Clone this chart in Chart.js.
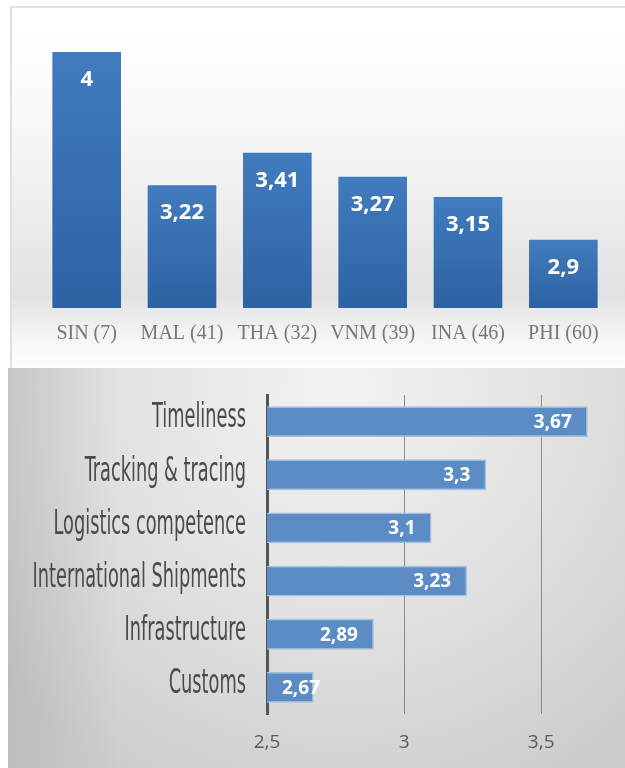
<!DOCTYPE html>
<html>
<head>
<meta charset="utf-8">
<script src="https://cdn.jsdelivr.net/npm/chart.js@4/dist/chart.umd.min.js"></script>
<style>
  html, body { margin: 0; padding: 0; background: #fff; }
  body { width: 625px; height: 768px; position: relative; overflow: hidden; }
  #topBox {
    position: absolute; left: 10px; top: 6px; width: 615px; height: 360px;
    border-left: 2px solid #e0e0e0; border-top: 2px solid #e4e4e4; border-bottom: 2px solid #cdcdcd;
  }
  #topChart { position: absolute; left: 0; top: 0; }
  #bottomChart { position: absolute; left: 8px; top: 368px; }
</style>
</head>
<body>
<div id="topBox"><canvas id="topChart" width="613" height="360"></canvas></div>
<canvas id="bottomChart" width="617" height="400"></canvas>

<script>
// --- data: LPI score per country (top) ---
const countries = ['SIN (7)', 'MAL (41)', 'THA (32)', 'VNM (39)', 'INA (46)', 'PHI (60)'];
const countryScores = [4, 3.22, 3.41, 3.27, 3.15, 2.9];

// --- data: LPI components (bottom) ---
const components = ['Timeliness', 'Tracking & tracing', 'Logistics competence', 'International Shipments', 'Infrastructure', 'Customs'];
const componentScores = [3.67, 3.3, 3.1, 3.23, 2.89, 2.67];
const componentTicks = [2.5, 3, 3.5];

const fmt = v => String(v).replace('.', ',');
const LABEL_FONT = '"Open Sans", "Liberation Sans", sans-serif';

// --- background plugins ---
const topBackground = {
    id: 'topBackground',
    beforeDraw(chart) {
        const { ctx, width, height } = chart;
        const g = ctx.createLinearGradient(0, 0, 0, height);
        g.addColorStop(0, '#ffffff');
        g.addColorStop(0.2, '#fcfcfc');
        g.addColorStop(0.55, '#eeeeee');
        g.addColorStop(0.8, '#e2e2e2');
        g.addColorStop(0.85, '#ebebeb');
        g.addColorStop(0.93, '#f7f7f7');
        g.addColorStop(1, '#fdfdfd');
        ctx.save();
        ctx.fillStyle = g;
        ctx.fillRect(0, 0, width, height);
        ctx.restore();
    }
};

const bottomBackground = {
    id: 'bottomBackground',
    beforeDraw(chart) {
        const { ctx, width, height } = chart;
        ctx.save();
        const g = ctx.createRadialGradient(330, 20, 10, 330, 20, 440);
        g.addColorStop(0, '#f2f2f2');
        g.addColorStop(0.45, '#e4e4e4');
        g.addColorStop(1, '#cdcdcd');
        ctx.fillStyle = g;
        ctx.fillRect(0, 0, width, height);
        const l = ctx.createLinearGradient(0, 0, 110, 0);
        l.addColorStop(0, 'rgba(0,0,0,0.08)');
        l.addColorStop(1, 'rgba(0,0,0,0)');
        ctx.fillStyle = l;
        ctx.fillRect(0, 0, 110, height);
        ctx.restore();
    }
};

// --- value labels ---
const topValueLabels = {
    id: 'topValueLabels',
    afterDatasetsDraw(chart) {
        const { ctx } = chart;
        const meta = chart.getDatasetMeta(0);
        ctx.save();
        ctx.fillStyle = '#ffffff';
        ctx.font = 'bold 22px ' + LABEL_FONT;
        ctx.textAlign = 'center';
        ctx.textBaseline = 'middle';
        meta.data.forEach((bar, i) => {
            ctx.fillText(fmt(countryScores[i]), bar.x, bar.y + 28);
        });
        ctx.restore();
    }
};

const bottomValueLabels = {
    id: 'bottomValueLabels',
    afterDatasetsDraw(chart) {
        const { ctx } = chart;
        const meta = chart.getDatasetMeta(0);
        const start = chart.scales.x.getPixelForValue(componentTicks[0]);
        ctx.save();
        ctx.fillStyle = '#ffffff';
        ctx.font = 'bold 19px ' + LABEL_FONT;
        ctx.textAlign = 'right';
        ctx.textBaseline = 'middle';
        meta.data.forEach((bar, i) => {
            const txt = fmt(componentScores[i]);
            const w = ctx.measureText(txt).width;
            const x = Math.max(bar.x - 16, start + 15 + w);
            ctx.fillText(txt, x, bar.y + 1);
        });
        ctx.restore();
    }
};

// condensed category labels on the left of the bottom chart
const condensedLabels = {
    id: 'condensedLabels',
    afterDraw(chart) {
        const { ctx } = chart;
        const y = chart.scales.y;
        ctx.save();
        ctx.font = '34px "Liberation Sans Narrow", "DejaVu Sans Condensed", "Liberation Sans", sans-serif';
        const squeeze = 94 / ctx.measureText('Timeliness').width;
        ctx.fillStyle = '#4a4a4a';
        ctx.textAlign = 'right';
        ctx.textBaseline = 'middle';
        components.forEach((label, i) => {
            const py = y.getPixelForTick(i) - 3;
            ctx.save();
            ctx.translate(238, py);
            ctx.scale(squeeze, 1);
            ctx.fillText(label, 0, 0);
            ctx.restore();
        });
        ctx.restore();
    }
};

// --- top chart ---
new Chart(document.getElementById('topChart'), {
    type: 'bar',
    data: {
        labels: countries,
        datasets: [{
            data: countryScores,
            backgroundColor(context) {
                const chart = context.chart;
                const area = chart.chartArea;
                if (!area || context.dataIndex === undefined) return '#3670b2';
                const top = chart.scales.y.getPixelForValue(countryScores[context.dataIndex]);
                const g = chart.ctx.createLinearGradient(0, top, 0, area.bottom);
                g.addColorStop(0, '#417cbe');
                g.addColorStop(1, '#2d62a3');
                return g;
            },
            borderWidth: 0,
            categoryPercentage: 1,
            barPercentage: 0.72
        }]
    },
    options: {
        responsive: false,
        animation: false,
        layout: { padding: { top: 10, left: 27, right: 14, bottom: 0 } },
        plugins: { legend: { display: false }, tooltip: { enabled: false } },
        scales: {
            x: {
                grid: { display: false, drawTicks: false },
                border: { display: false },
                ticks: {
                    color: '#777777',
                    padding: 14,
                    font: { family: '"Liberation Serif", "DejaVu Serif", serif', size: 20 }
                },
                afterFit(scale) { scale.height = 60; }
            },
            y: {
                display: false,
                min: 2.5,
                max: 4.2
            }
        }
    },
    plugins: [topBackground, topValueLabels]
});

// --- bottom chart ---
new Chart(document.getElementById('bottomChart'), {
    type: 'bar',
    data: {
        labels: components,
        datasets: [{
            data: componentScores,
            backgroundColor: '#5b8cc5',
            borderColor: '#a3c0e3',
            borderWidth: 1.5,
            borderSkipped: false,
            categoryPercentage: 1,
            barPercentage: 0.58
        }]
    },
    options: {
        indexAxis: 'y',
        responsive: false,
        animation: false,
        layout: { padding: { top: 27, left: 0, right: 29, bottom: 0 } },
        plugins: { legend: { display: false }, tooltip: { enabled: false } },
        scales: {
            x: {
                min: 2.5,
                max: 3.7,
                afterBuildTicks(scale) { scale.ticks = componentTicks.map(v => ({ value: v })); },
                grid: {
                    drawTicks: false,
                    lineWidth: 1,
                    color: ctx => (ctx.tick && ctx.tick.value === 2.5 ? 'rgba(0,0,0,0)' : '#8a8a8a')
                },
                border: { display: false },
                ticks: {
                    color: '#595959',
                    padding: 17,
                    font: { family: LABEL_FONT, size: 19 },
                    callback: v => fmt(v)
                },
                afterFit(scale) { scale.height = 54; }
            },
            y: {
                grid: { display: false, drawTicks: false },
                border: { display: true, color: '#555555', width: 3 },
                ticks: { display: false },
                afterFit(scale) { scale.width = 259; }
            }
        }
    },
    plugins: [bottomBackground, bottomValueLabels, condensedLabels]
});
</script>
</body>
</html>
